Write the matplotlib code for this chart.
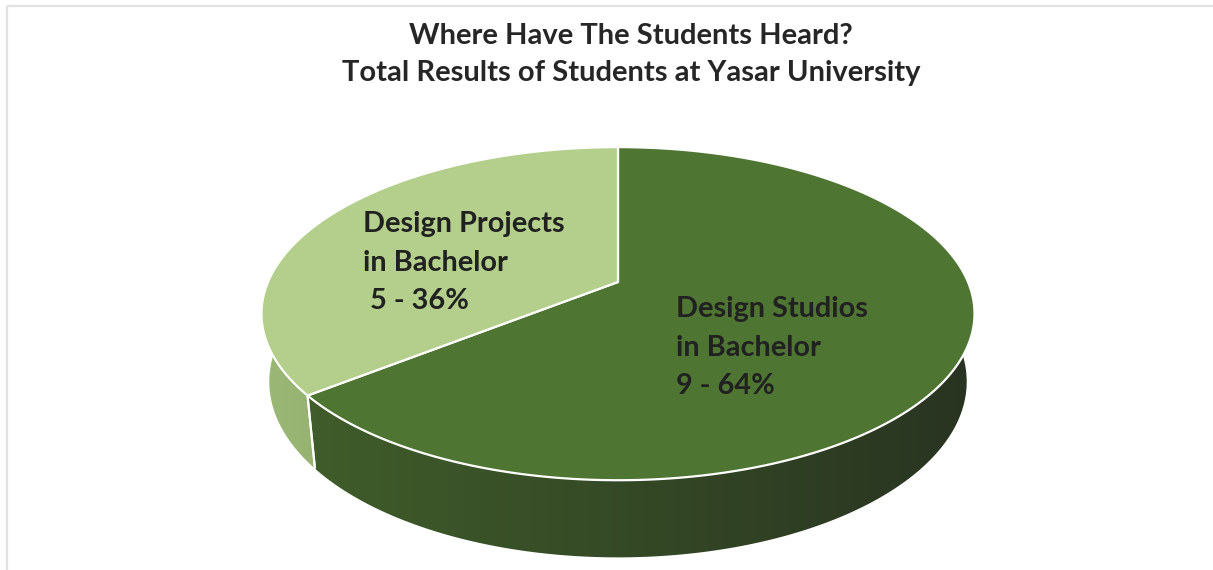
import numpy as np
import matplotlib.pyplot as plt
from matplotlib.patches import Polygon, Rectangle
from matplotlib.colors import LinearSegmentedColormap

categories = ["Design Studios\nin Bachelor", "Design Projects\nin Bachelor"]
counts = [9, 5]
top_colors = ["#4e7531", "#b3cf8b"]
# wall gradient, left to right across the pie
side_left = ["#42602b", "#9cb976"]
side_right = ["#283321", "#5d7046"]
title = "Where Have The Students Heard?\nTotal Results of Students at Yasar University"

# 3-D pie geometry (screen pixels)
cx, cy = 618, 282
R = 350
tilt = np.radians(27.3)
persp = 0.214
depth = 0.22


def project(t, z):
    u, v = np.cos(t), np.sin(t)
    yp = v * np.sin(tilt) + z * np.cos(tilt)
    d = v * np.cos(tilt) - z * np.sin(tilt)
    s = 1.0 / (1.0 + persp * d)
    return cx + R * u * s, cy - R * yp * s


total = sum(counts)
fracs = [c / total for c in counts]
pcts = [round(f * 100) for f in fracs]

# slices run clockwise from 12 o'clock
bounds = []
start = np.pi / 2
for f in fracs:
    end = start - f * 2 * np.pi
    bounds.append((end, start))
    start = end

fig = plt.figure(figsize=(12.13, 5.70), dpi=100)
ax = fig.add_axes([0, 0, 1, 1])
ax.set_xlim(0, 1213)
ax.set_ylim(570, 0)
ax.axis("off")

ax.add_patch(Rectangle((6.5, 5.5), 1300, 700, fill=False,
                       edgecolor="#e2e2e2", lw=1.6))

# outer wall: one polygon per slice, filled with a horizontal gradient
x0, x1 = cx - R * 1.05, cx + R * 1.05
grad = np.linspace(0, 1, 256).reshape(1, -1)
vis_lo, vis_hi = np.radians(172), np.radians(368)
for i, (t0, t1) in enumerate(bounds):
    # bring the slice range next to the front half
    while t1 < vis_lo:
        t0 += 2 * np.pi
        t1 += 2 * np.pi
    while t0 > vis_hi:
        t0 -= 2 * np.pi
        t1 -= 2 * np.pi
    a, b = max(t0, vis_lo), min(t1, vis_hi)
    if b <= a:
        continue
    ts = np.linspace(a, b, 300)
    top = [project(t, 0) for t in ts]
    bot = [project(t, -depth) for t in ts[::-1]]
    wall = Polygon(top + bot, closed=True, facecolor="none", edgecolor="none")
    ax.add_patch(wall)
    cmap = LinearSegmentedColormap.from_list(
        f"wall{i}", [side_left[i], side_right[i]])
    im = ax.imshow(grad, cmap=cmap, extent=(x0, x1, 570, 0),
                   aspect="auto", interpolation="bilinear")
    im.set_clip_path(wall)

    # white seam where the slice meets the next one
    for t in (t0, t1):
        if vis_lo < t < vis_hi and np.sin(t) < 0:
            (xa, ya), (xb, yb) = project(t, 0), project(t, -depth)
            ax.plot([xa, xb], [ya, yb], color="white", lw=1.5,
                    solid_capstyle="butt")

ax.set_xlim(0, 1213)
ax.set_ylim(570, 0)

# top faces
for i, (t0, t1) in enumerate(bounds):
    ts = np.linspace(t0, t1, 400)
    pts = [(cx, cy)] + [project(t, 0) for t in ts]
    ax.add_patch(Polygon(pts, closed=True, facecolor=top_colors[i],
                         edgecolor="white", lw=1.6, joinstyle="round"))

label_font = dict(family=["Lato", "DejaVu Sans"], fontweight="bold",
                  fontsize=20.8, color="#212121", linespacing=1.6)
ax.text(676, 296, f"{categories[0]}\n{counts[0]} - {pcts[0]}%",
        ha="left", va="top", **label_font)
ax.text(363, 211, f"{categories[1]}\n {counts[1]} - {pcts[1]}%",
        ha="left", va="top", **label_font)

ax.text(631, 23, title, ha="center", va="top", multialignment="center",
        family=["Lato", "DejaVu Sans"], fontweight="bold", fontsize=21,
        color="#262626", linespacing=1.5)

fig.savefig("out.png", dpi=100)
